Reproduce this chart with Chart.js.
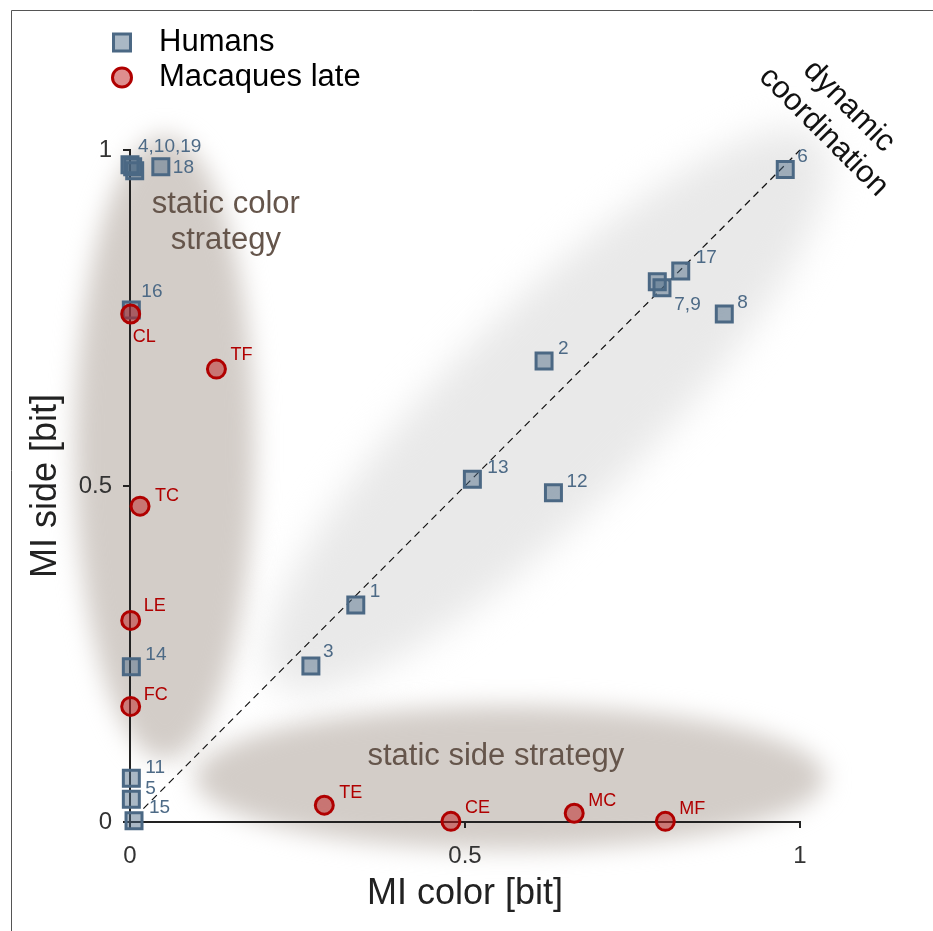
<!DOCTYPE html>
<html>
<head>
<meta charset="utf-8">
<script src="https://cdn.jsdelivr.net/npm/chart.js@4.4.1/dist/chart.umd.min.js"></script>
<style>
  html, body { margin: 0; padding: 0; background: #fff; }
  canvas { display: block; }
</style>
</head>
<body>
<canvas id="mi" width="933" height="931"></canvas>
<script>
// Mutual information (bit) between choice and stimulus colour / side
const humanIds   = ['1','2','3','4','5','6','7','8','9','10','11','12','13','14','15','16','17','18','19'];
const humanColor = [0.337, 0.618, 0.270, 0.000, 0.002, 0.978, 0.787, 0.887, 0.794, 0.004, 0.002, 0.632, 0.511, 0.002, 0.006, 0.002, 0.822, 0.046, 0.007];
const humanSide  = [0.323, 0.686, 0.232, 0.978, 0.034, 0.971, 0.804, 0.756, 0.795, 0.975, 0.065, 0.490, 0.510, 0.231, 0.002, 0.762, 0.820, 0.975, 0.969];
// subjects whose markers coincide share a single tag
const humanTags  = ['1','2','3','4,10,19','5','6','7,9','8','','','11','12','13','14','15','16','17','18',''];

const macaqueIds   = ['CL','TF','TC','LE','FC','TE','CE','MC','MF'];
const macaqueColor = [0.001, 0.129, 0.015, 0.001, 0.001, 0.290, 0.479, 0.663, 0.799];
const macaqueSide  = [0.756, 0.674, 0.470, 0.300, 0.172, 0.025, 0.001, 0.013, 0.001];

const tickValues = [0, 0.5, 1];
const tickText   = ['0', '0.5', '1'];

// tag placement relative to the marker, in px
const humanTagOffsets = [[14,-13],[14,-12],[12,-14],[8,-18],[14,-10],[12,-13],[17,23],[13,-11],[0,0],[0,0],
                         [14,-11],[13,-11],[15,-12],[14,-12],[15,-13],[10,-18],[15,-13],[12,1],[0,0]];
const macaqueTagOffsets = [[2,23],[14,-14],[15,-10],[13,-14],[13,-11],[15,-12],[14,-13],[14,-12],[14,-12]];

const FONT = '"Liberation Sans", Arial, Helvetica, sans-serif';
Chart.defaults.font.family = FONT;

const HUMAN_EDGE = '#4b6884';
const HUMAN_FILL = 'rgba(75,104,132,0.47)';
const MACAQUE_EDGE = '#b00000';
const MACAQUE_FILL = 'rgba(190,30,30,0.5)';

// soft strategy regions, in axis units
const regions = [
  { cx: 0.624, cy: 0.613, a: 0.575, b: 0.150, angle: -45, color: '#e9e9e9', blur: 18 },
  { cx: 0.052, cy: 0.557, a: 0.134, b: 0.464, angle: 0,   color: '#d3cdc8', blur: 12 },
  { cx: 0.567, cy: 0.066, a: 0.470, b: 0.107, angle: 0,   color: '#d3cdc8', blur: 12 }
];

// strategy captions, anchored in axis units
const captions = [
  { x: 0.143, y: 0.892, lines: ['static color', 'strategy'], color: '#65554b', angle: 0 },
  { x: 0.546, y: 0.098, lines: ['static side strategy'], color: '#65554b', angle: 0 },
  { x: 1.054, y: 1.046, lines: ['dynamic', 'coordination'], color: '#111', angle: 45 }
];

const backdrop = {
  id: 'backdrop',
  beforeDraw(chart) {
    const { ctx, scales: { x, y } } = chart;
    const ux = x.getPixelForValue(1) - x.getPixelForValue(0);
    const uy = y.getPixelForValue(0) - y.getPixelForValue(1);
    ctx.save();
    ctx.fillStyle = '#fff';
    ctx.fillRect(0, 0, chart.width, chart.height);
    regions.forEach(r => {
      ctx.save();
      ctx.filter = 'blur(' + r.blur + 'px)';
      ctx.fillStyle = r.color;
      ctx.beginPath();
      const px = x.getPixelForValue(r.cx), py = y.getPixelForValue(r.cy);
      const rot = r.angle * Math.PI / 180;
      if (r.angle) {
        ctx.ellipse(px, py, r.a * ux, r.b * ux, rot, 0, Math.PI * 2);
      } else {
        ctx.ellipse(px, py, r.a * ux, r.b * uy, 0, 0, Math.PI * 2);
      }
      ctx.fill();
      ctx.restore();
    });
    ctx.restore();
  }
};

const annotate = {
  id: 'annotate',
  afterDatasetsDraw(chart) {
    const { ctx, scales: { x, y } } = chart;
    ctx.save();
    ctx.textAlign = 'left';
    ctx.textBaseline = 'middle';
    // subject tags
    const tagSets = [
      { meta: chart.getDatasetMeta(1), tags: humanTags, offs: humanTagOffsets, color: '#4d6a86', size: 19 },
      { meta: chart.getDatasetMeta(2), tags: macaqueIds, offs: macaqueTagOffsets, color: '#b00000', size: 18 }
    ];
    tagSets.forEach(s => {
      ctx.fillStyle = s.color;
      ctx.font = s.size + 'px ' + FONT;
      s.meta.data.forEach((pt, i) => {
        const t = s.tags[i];
        if (!t) return;
        ctx.fillText(t, pt.x + s.offs[i][0], pt.y + s.offs[i][1]);
      });
    });
    // strategy captions
    ctx.font = '31px ' + FONT;
    ctx.textAlign = 'center';
    const gap = 36;
    captions.forEach(c => {
      ctx.save();
      ctx.translate(x.getPixelForValue(c.x), y.getPixelForValue(c.y));
      ctx.rotate(c.angle * Math.PI / 180);
      ctx.fillStyle = c.color;
      const n = c.lines.length;
      c.lines.forEach((line, i) => {
        ctx.fillText(line, 0, (i - (n - 1) / 2) * gap);
      });
      ctx.restore();
    });
    ctx.restore();
  },
  afterDraw(chart) {
    const { ctx } = chart;
    ctx.save();
    // legend built from the two marker datasets
    const items = [chart.data.datasets[1], chart.data.datasets[2]];
    const lx = 122, ly = [42.5, 77.5];
    items.forEach((ds, i) => {
      ctx.fillStyle = ds.backgroundColor;
      ctx.strokeStyle = ds.borderColor;
      ctx.lineWidth = ds.borderWidth;
      ctx.beginPath();
      if (ds.pointStyle === 'rect') {
        const h = ds.pointRadius * Math.SQRT1_2 + 0.5;
        ctx.rect(lx - h, ly[i] - h, 2 * h, 2 * h);
      } else {
        ctx.arc(lx, ly[i], ds.pointRadius + 0.5, 0, Math.PI * 2);
      }
      ctx.fill();
      ctx.stroke();
      ctx.fillStyle = '#000';
      ctx.font = '31px ' + FONT;
      ctx.textAlign = 'left';
      ctx.textBaseline = 'middle';
      ctx.fillText(ds.label, 159, ly[i]);
    });
    // figure frame
    ctx.strokeStyle = '#555';
    ctx.lineWidth = 1;
    ctx.beginPath();
    ctx.moveTo(11.5, chart.height);
    ctx.lineTo(11.5, 10.5);
    ctx.lineTo(chart.width, 10.5);
    ctx.stroke();
    ctx.restore();
  }
};

const fixedTicks = s => { s.ticks = tickValues.map(v => ({ value: v })); };
const tickLabel = v => tickText[tickValues.indexOf(v)];

new Chart(document.getElementById('mi'), {
  type: 'scatter',
  data: {
    datasets: [
      {
        label: 'diagonal',
        data: [{ x: 0.02, y: 0.02 }, { x: 1, y: 1 }],
        showLine: true,
        borderColor: '#111',
        borderWidth: 1.2,
        borderDash: [7, 5],
        pointRadius: 0,
        order: 3,
        clip: false
      },
      {
        label: 'Humans',
        data: humanColor.map((v, i) => ({ x: v, y: humanSide[i], id: humanIds[i] })),
        pointStyle: 'rect',
        pointRadius: 11.3,
        borderWidth: 3,
        borderColor: HUMAN_EDGE,
        backgroundColor: HUMAN_FILL,
        order: 2,
        clip: false
      },
      {
        label: 'Macaques late',
        data: macaqueColor.map((v, i) => ({ x: v, y: macaqueSide[i], id: macaqueIds[i] })),
        pointStyle: 'circle',
        pointRadius: 9,
        borderWidth: 3,
        borderColor: MACAQUE_EDGE,
        backgroundColor: MACAQUE_FILL,
        order: 1,
        clip: false
      }
    ]
  },
  options: {
    responsive: false,
    animation: false,
    events: [],
    devicePixelRatio: 1,
    layout: { padding: { left: 0, top: 150, right: 133, bottom: 0 } },
    plugins: { legend: { display: false }, tooltip: { enabled: false } },
    scales: {
      x: {
        type: 'linear',
        min: 0, max: 1,
        afterBuildTicks: fixedTicks,
        ticks: { padding: 14, color: '#333', font: { size: 24 }, callback: tickLabel },
        grid: { display: true, drawOnChartArea: false, drawTicks: true, tickLength: 6, color: '#222', lineWidth: 2 },
        border: { display: true, color: '#222', width: 2 },
        title: { display: true, text: 'MI color [bit]', color: '#222', font: { size: 36 }, padding: { top: 0, bottom: 15 } },
        afterFit: s => { s.height = 109; }
      },
      y: {
        type: 'linear',
        min: 0, max: 1,
        afterBuildTicks: fixedTicks,
        ticks: { padding: 11, color: '#333', font: { size: 24 }, callback: tickLabel },
        grid: { display: true, drawOnChartArea: false, drawTicks: true, tickLength: 7, color: '#222', lineWidth: 2 },
        border: { display: true, color: '#222', width: 2 },
        title: { display: true, text: 'MI side [bit]', color: '#222', font: { size: 36 }, padding: { top: 24, bottom: 0 } },
        afterFit: s => { s.width = 130; }
      }
    }
  },
  plugins: [backdrop, annotate]
});
</script>
</body>
</html>
